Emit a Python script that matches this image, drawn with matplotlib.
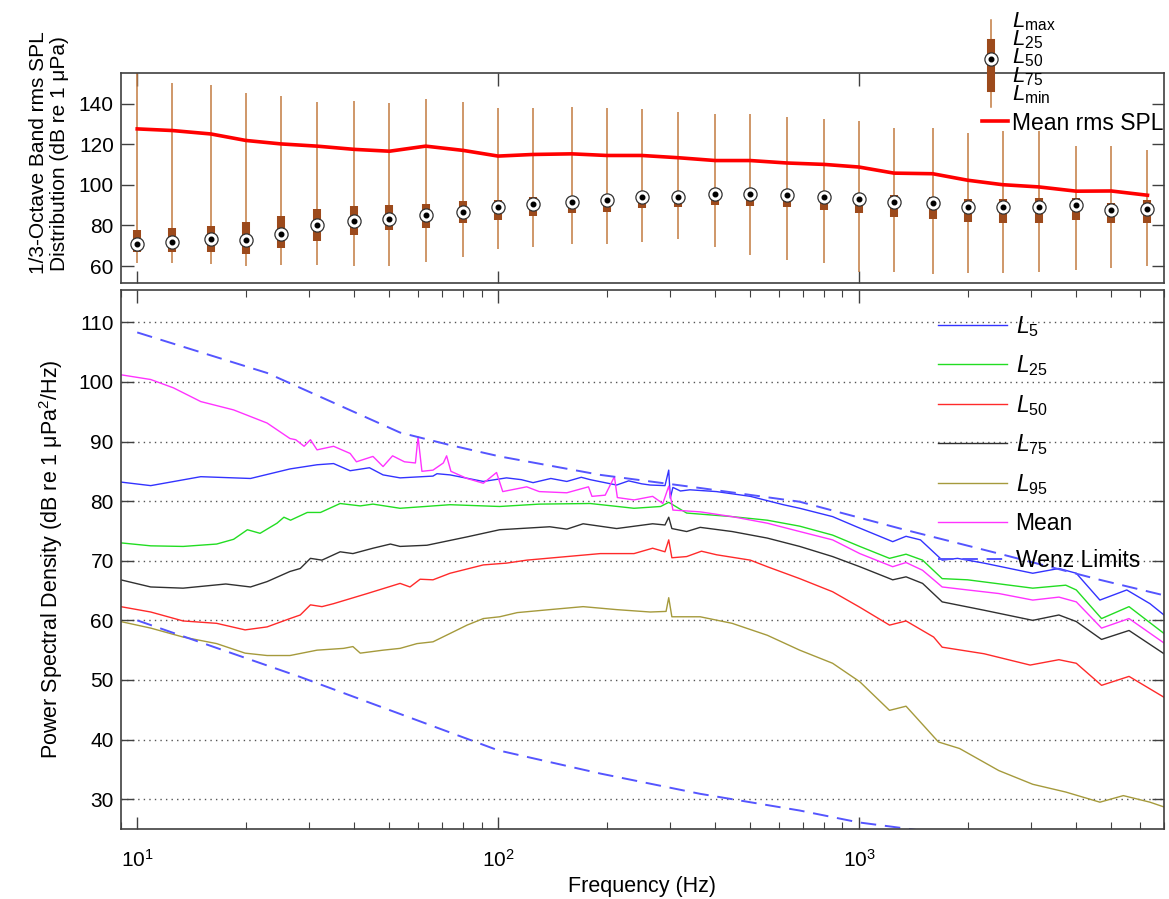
import matplotlib
matplotlib.use('Agg')
import matplotlib.pyplot as plt
from matplotlib.lines import Line2D
from matplotlib.ticker import NullLocator, FixedLocator

plt.rcParams['font.family'] = ['Liberation Sans', 'DejaVu Sans']
plt.rcParams['mathtext.fontset'] = 'custom'
plt.rcParams['mathtext.rm'] = 'Liberation Sans'
plt.rcParams['mathtext.it'] = 'Liberation Sans:italic'
plt.rcParams['mathtext.bf'] = 'Liberation Sans:bold'

# ---- top panel: 1/3-octave band level distribution ----
bands = [10, 12.5, 16, 20, 25, 31.5, 40, 50, 63, 80, 100, 125, 160, 200, 250, 315,
         400, 500, 630, 800, 1000, 1250, 1600, 2000, 2500, 3150, 4000, 5000, 6300]
l_max = [158, 150, 149, 145.5, 144, 141, 141.5, 140.6, 142.3, 141, 137.7, 137.9, 138.5, 137.9,
         137.4, 135.7, 134.9, 134.9, 133.3, 132.6, 131.7, 128.2, 128.2, 125.8, 126.8, 126.8,
         119.4, 119.4, 117]
l25 = [77.7, 78.7, 79.9, 81.8, 84.6, 88, 89.5, 90, 90.8, 92.1, 92.8, 94.1, 94, 94.4, 95.7, 96.5,
       97.7, 97.4, 97.4, 96.5, 95.7, 94.9, 94.1, 93, 93, 93.3, 93.6, 91.3, 92.5]
l50 = [71, 71.8, 73.3, 72.8, 75.8, 80, 82.2, 83, 85, 86.7, 88.9, 90.5, 91.6, 92.8, 93.8, 94.1,
       95.4, 95.4, 94.9, 94.1, 93.1, 91.6, 91.3, 89.2, 89.2, 89.2, 90, 87.5, 88]
l75 = [67, 67, 67, 66, 68.9, 72.5, 75.3, 77.7, 78.9, 81, 82.6, 84.6, 86, 86.7, 88.4, 89.2, 90,
       89.8, 89.2, 87.8, 86.3, 84.3, 83.1, 81.8, 81.3, 81.3, 82.6, 81, 81.3]
l_min = [61.6, 61.6, 61, 59.8, 60.6, 60.6, 59.8, 59.8, 62.2, 64.7, 68.3, 69.6, 70.7, 70.7, 72,
         73.2, 69.6, 65.5, 63, 61.4, 57.3, 57.3, 56.2, 56.5, 56.5, 57.3, 58.1, 59, 59.8]
mean_rms = [127.6, 126.8, 125.1, 121.9, 120.2, 119.1, 117.5, 116.6, 119.1, 117, 114.2, 115,
            115.3, 114.5, 114.5, 113.4, 112, 112, 110.8, 110.1, 108.8, 105.8, 105.5, 102.3,
            100.1, 99, 96.9, 97, 94.9]

# ---- bottom panel: PSD percentiles ----
f_l5 = [9.0, 10.9, 15, 20.6, 26.5, 31.5, 35, 38.9, 44, 48, 53.5, 66, 67.7, 73.6, 91, 105.5, 116,
        125, 140, 155, 170, 180, 213, 230, 250, 264, 290, 297, 300, 305, 320, 340, 403, 500, 617,
        685, 845, 984, 1240, 1350, 1480, 1700, 1875, 2220, 3030, 3580, 4000, 4650, 5520, 6400,
        7000]
v_l5 = [83.2, 82.6, 84.1, 83.8, 85.4, 86.1, 86.3, 85.1, 85.6, 84.4, 83.9, 84.2, 84.6, 84.4, 83.3,
        83.9, 83.6, 83.1, 83.8, 83.3, 84.0, 83.6, 82.7, 83.4, 82.9, 82.7, 82.6, 85.2, 80.5, 82.3,
        81.7, 81.9, 81.6, 80.8, 79.4, 78.8, 77.4, 75.7, 73.2, 74.1, 73.5, 70.1, 70.4, 69.6, 67.9,
        68.7, 67.9, 63.4, 65.1, 62.8, 60.9]

f_l25 = [9.0, 10.9, 13.4, 16.6, 18.5, 20.2, 21.9, 24.4, 25.5, 26.6, 29.6, 32.2, 36.5, 41.5, 45,
         53.5, 73.6, 101, 130, 180, 238, 282, 297, 333, 445, 557, 685, 845, 1005, 1215, 1350,
         1500, 1700, 2000, 3030, 3740, 4000, 4700, 5600, 7000]
v_l25 = [73.0, 72.5, 72.4, 72.8, 73.6, 75.2, 74.6, 76.3, 77.3, 76.8, 78.1, 78.1, 79.6, 79.2, 79.5,
         78.8, 79.4, 79.1, 79.5, 79.6, 78.8, 79.1, 79.8, 78.0, 77.4, 76.8, 75.8, 74.3, 72.4, 70.4,
         71.1, 70.1, 67.0, 66.8, 65.4, 65.9, 65.1, 60.3, 62.3, 57.8]

f_l50 = [9.0, 10.9, 13.4, 16.6, 19.9, 22.9, 26.5, 28.3, 30.2, 32.5, 35, 43.4, 53.5, 57, 60.8, 66,
         73.6, 91, 105.5, 120, 155, 192, 238, 268, 290, 297, 303, 333, 366, 403, 500, 557, 685,
         845, 1005, 1215, 1350, 1610, 1700, 2220, 2980, 3580, 4000, 4700, 5600, 7000]
v_l50 = [62.3, 61.4, 59.9, 59.5, 58.4, 58.9, 60.3, 60.9, 62.6, 62.3, 62.8, 64.5, 66.2, 65.6, 66.9,
         66.8, 67.9, 69.3, 69.6, 70.1, 70.7, 71.2, 71.2, 72.1, 71.5, 73.5, 70.5, 70.7, 71.6, 71.0,
         70.1, 69.0, 67.0, 64.8, 62.2, 59.2, 59.9, 57.2, 55.5, 54.4, 52.5, 53.4, 52.8, 49.1, 50.6,
         47.1]

f_l75 = [9.0, 10.9, 13.4, 17.6, 20.6, 22.9, 26.5, 28.3, 30.2, 32.5, 36.5, 39.6, 45, 50.3, 53.5,
         63.5, 82, 101, 139, 155, 172, 213, 268, 290, 297, 303, 333, 363, 445, 557, 685, 845,
         1005, 1240, 1350, 1500, 1700, 2220, 3030, 3580, 4000, 4700, 5600, 7000]
v_l75 = [66.8, 65.6, 65.4, 66.1, 65.6, 66.5, 68.2, 68.7, 70.4, 70.1, 71.5, 71.2, 72.1, 72.8, 72.4,
         72.6, 74.0, 75.2, 75.7, 75.3, 76.2, 75.4, 76.2, 76.0, 77.3, 75.4, 74.9, 75.6, 74.9, 73.8,
         72.4, 70.7, 69.0, 66.8, 67.3, 66.2, 63.1, 61.7, 60.0, 60.9, 59.8, 56.8, 58.3, 54.4]

f_l95 = [9.0, 10.9, 13.4, 16.6, 19.9, 22.9, 26.5, 31.5, 37.3, 39.6, 41.5, 48, 53.5, 59.6, 66,
         73.6, 82, 91, 101, 113, 139, 172, 213, 264, 292, 297, 303, 363, 445, 557, 685, 845, 1005,
         1215, 1350, 1660, 1900, 2440, 3030, 3740, 4650, 5400, 6400, 7000]
v_l95 = [59.8, 58.7, 57.2, 56.1, 54.5, 54.1, 54.1, 55.0, 55.3, 55.6, 54.5, 55.0, 55.3, 56.1, 56.4,
         57.8, 59.2, 60.3, 60.6, 61.3, 61.8, 62.3, 61.8, 61.4, 61.5, 63.8, 60.6, 60.6, 59.5, 57.5,
         55.0, 52.8, 49.7, 44.9, 45.6, 39.6, 38.5, 34.8, 32.5, 31.2, 29.5, 30.6, 29.5, 28.7]

f_mean = [9.0, 10.9, 12.6, 15, 18.5, 22.9, 26.5, 27.5, 29, 30.2, 31.5, 35, 38.9, 40.5, 45, 48,
          51, 55, 59, 60, 61.5, 66, 70.5, 72, 74, 82, 91, 99, 103, 120, 130, 155, 178, 182, 198,
          210, 214, 238, 268, 286, 297, 305, 363, 445, 557, 685, 845, 1005, 1240, 1350, 1500,
          1700, 2000, 2440, 3030, 3580, 4000, 4700, 5600, 7000]
v_mean = [101.2, 100.4, 99.0, 96.7, 95.3, 93.1, 90.5, 90.3, 89.2, 90.3, 88.6, 89.2, 88.0, 86.6,
          87.5, 85.8, 87.6, 86.6, 86.4, 90.8, 85.0, 85.2, 86.4, 87.6, 85.0, 83.8, 83.0, 84.8, 81.6,
          82.4, 81.6, 81.4, 82.4, 80.8, 81.0, 84.1, 80.6, 80.2, 80.8, 79.6, 82.5, 78.5, 78.2, 77.4,
          76.3, 74.9, 73.5, 71.2, 69.0, 69.7, 68.4, 65.6, 65.1, 64.5, 63.4, 63.9, 63.1, 58.7, 60.3,
          56.2]

f_wenz_hi = [10, 22.9, 53.5, 73.6, 101, 192, 363, 685, 1300, 2440, 4650, 7000]
v_wenz_hi = [108.3, 101.5, 91.5, 89.4, 87.5, 84.4, 82.2, 79.9, 75.4, 71.2, 66.8, 64.2]
f_wenz_lo = [10, 28.3, 53.5, 100, 192, 363, 685, 1000, 1420, 2000]
v_wenz_lo = [60.0, 50.5, 44.3, 38.2, 34.3, 30.9, 28.1, 26.1, 24.9, 23.5]

W, H = 1169, 899
fig = plt.figure(figsize=(W / 100, H / 100), dpi=100)


def px(x, y):
    return x / W, 1 - y / H


ax1 = fig.add_axes([120.7 / W, 1 - 283.3 / H, (1164 - 120.7) / W, (283.3 - 73.3) / H])
ax2 = fig.add_axes([120.7 / W, 1 - 829 / H, (1164 - 120.7) / W, (829 - 289.5) / H])

box_c = '#9c4a1c'
whisk_c = '#c27a40'
mk = 9.5

ax1.vlines(bands, l_min, l_max, color=whisk_c, lw=1.1, zorder=2)
ax1.vlines(bands, l75, l25, color=box_c, lw=5.8, zorder=3)
ax1.plot(bands, l50, 'o', ms=mk, mfc='white', mec='#303030', mew=0.9, ls='none', zorder=4)
ax1.plot(bands, l50, 'o', ms=3.3, color='black', ls='none', zorder=5)
ax1.plot(bands, mean_rms, color='red', lw=2.6, zorder=6)

ax2.plot(f_l5, v_l5, color='#3333ff', lw=1.0, label=r'$\mathit{L}_{5}$')
ax2.plot(f_l25, v_l25, color='#22dd22', lw=1.0, label=r'$\mathit{L}_{25}$')
ax2.plot(f_l50, v_l50, color='#ff2a2a', lw=1.0, label=r'$\mathit{L}_{50}$')
ax2.plot(f_l75, v_l75, color='#303030', lw=1.0, label=r'$\mathit{L}_{75}$')
ax2.plot(f_l95, v_l95, color='#a59a3c', lw=1.0, label=r'$\mathit{L}_{95}$')
ax2.plot(f_mean, v_mean, color='#ff33ff', lw=1.0, label='Mean')
ax2.plot(f_wenz_hi, v_wenz_hi, color='#5555ff', lw=1.4, ls=(0, (8, 4.5)), label='Wenz Limits')
ax2.plot(f_wenz_lo, v_wenz_lo, color='#5555ff', lw=1.4, ls=(0, (8, 4.5)), label='_nolegend_')

for ax in (ax1, ax2):
    ax.set_xscale('log')
    ax.set_xlim(9, 7000)
    ax.tick_params(which='both', direction='in', top=True, right=True, labelsize=15,
                   color='#404040')
    ax.tick_params(which='major', length=9, width=1.0)
    ax.tick_params(which='minor', length=5, width=0.8)
    for s in ax.spines.values():
        s.set_color('#404040')
        s.set_linewidth(1.2)

ax1.set_ylim(51.5, 155)
ax1.yaxis.set_major_locator(FixedLocator([60, 80, 100, 120, 140]))
ax1.xaxis.set_minor_locator(NullLocator())
ax1.tick_params(axis='x', labelbottom=False)
ax1.tick_params(axis='y', pad=5)
ax1.set_ylabel('1/3-Octave Band rms SPL\nDistribution (dB re 1 μPa)', fontsize=15,
               linespacing=1.1)
ax1.yaxis.set_label_coords(-0.05, 0.62)

ax2.set_ylim(25, 115.5)
ax2.yaxis.set_major_locator(FixedLocator([30, 40, 50, 60, 70, 80, 90, 100, 110]))
ax2.yaxis.grid(True, ls=(0, (1, 3)), color='#555555', lw=1.0)
ax2.tick_params(axis='y', pad=5)
ax2.tick_params(axis='x', pad=14)
ax2.set_xlabel('Frequency (Hz)', fontsize=15.5, labelpad=4)
ax2.set_ylabel('Power Spectral Density (dB re 1 μPa$^2$/Hz)', fontsize=15.5, labelpad=10)

ax2.legend(loc='upper left', bbox_to_anchor=(0.783, 0.955), frameon=False, fontsize=16.5,
           handlelength=3.05, handletextpad=0.35, labelspacing=0.64, borderpad=0,
           borderaxespad=0)

# custom box-plot key above the top panel
x0, y0 = px(991, 20)
_, y1 = px(991, 107)
fig.add_artist(Line2D([x0, x0], [y0, y1], color=whisk_c, lw=1.1))
_, yb0 = px(991, 43)
_, yb1 = px(991, 88)
fig.add_artist(Line2D([x0, x0], [yb0, yb1], color=box_c, lw=5.8))
_, yc = px(991, 59)
fig.add_artist(Line2D([x0], [yc], marker='o', ms=mk, mfc='white', mec='#303030', mew=0.9))
fig.add_artist(Line2D([x0], [yc], marker='o', ms=3.3, color='black'))
key_text = '\n'.join([r'$\mathit{L}_{\mathrm{max}}$', r'$\mathit{L}_{25}$',
                      r'$\mathit{L}_{50}$', r'$\mathit{L}_{75}$',
                      r'$\mathit{L}_{\mathrm{min}}$'])
tx, ty = px(1012, 10)
fig.text(tx, ty, key_text, fontsize=16, va='top', ha='left', linespacing=0.75)
lx0, ly = px(982, 121)
lx1, _ = px(1008, 121)
fig.add_artist(Line2D([lx0, lx1], [ly, ly], color='red', lw=2.6))
tx, ty = px(1012, 130)
fig.text(tx, ty, 'Mean rms SPL', fontsize=16.5, va='baseline', ha='left')

fig.savefig('out.png', dpi=100)
